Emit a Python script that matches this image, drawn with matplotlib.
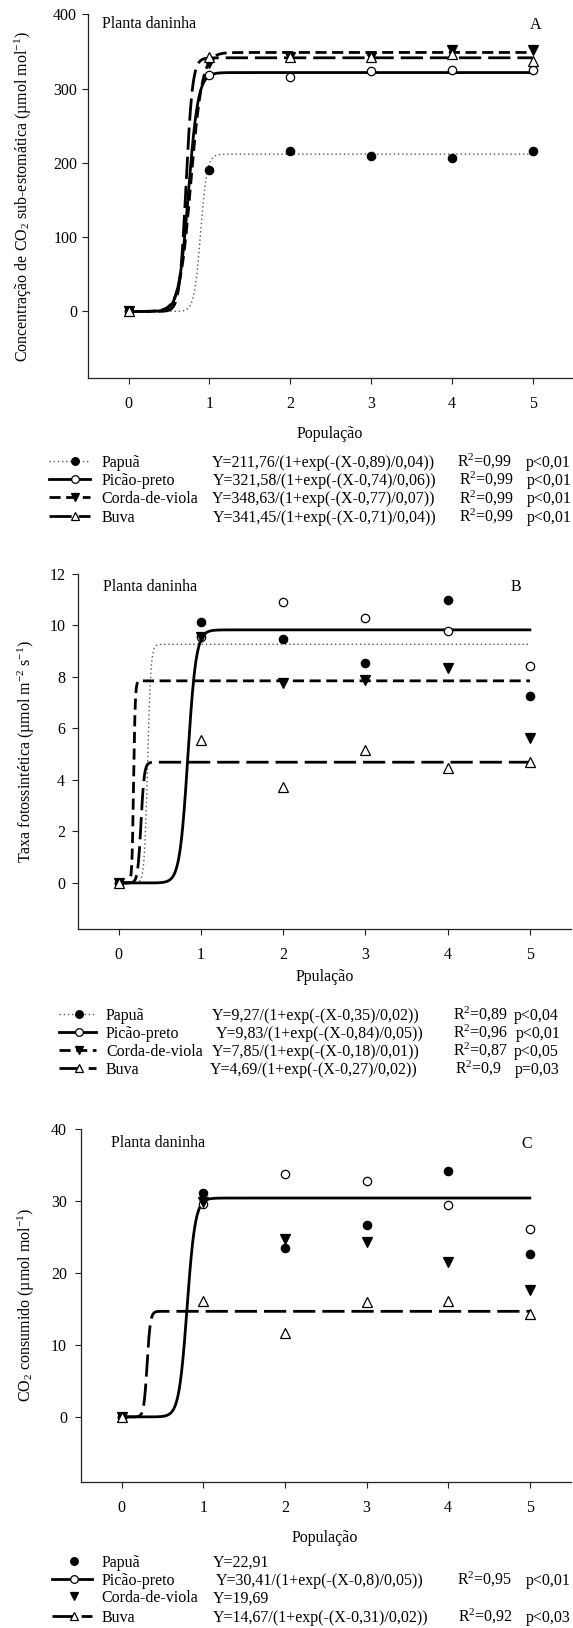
import numpy as np
import matplotlib
matplotlib.use('Agg')
import matplotlib.pyplot as plt
from matplotlib.lines import Line2D

plt.rcParams['font.family'] = ['Liberation Serif', 'DejaVu Serif']
plt.rcParams['mathtext.fontset'] = 'custom'
plt.rcParams['mathtext.rm'] = 'Liberation Serif'
plt.rcParams['mathtext.it'] = 'Liberation Serif:italic'
plt.rcParams['font.size'] = 11.5

W, H = 573, 1628

# ---- dados ----
populacao = [0, 1, 2, 3, 4, 5]
especies = ['Papuã', 'Picão-preto', 'Corda-de-viola', 'Buva']

# A - concentracao de CO2 sub-estomatica
ci_papua = [0, 191, 216, 209, 206.5, 216]
ci_picao = [0, 318, 315, 323, 325.5, 325.5]
ci_corda = [0, 334, 343, 343, 351.5, 352.5]
ci_buva = [0, 342, 343, 342, 346, 337]
ci_par = [(211.76, 0.89, 0.04), (321.58, 0.74, 0.06), (348.63, 0.77, 0.07), (341.45, 0.71, 0.04)]
ci_eq = ['Y=211,76/(1+exp(-(X-0,89)/0,04))', 'Y=321,58/(1+exp(-(X-0,74)/0,06))',
         'Y=348,63/(1+exp(-(X-0,77)/0,07))', 'Y=341,45/(1+exp(-(X-0,71)/0,04))']
ci_r2 = ['0,99', '0,99', '0,99', '0,99']
ci_p = ['p<0,01', 'p<0,01', 'p<0,01', 'p<0,01']

# B - taxa fotossintetica
a_papua = [0, 10.12, 9.49, 8.55, 11.0, 7.28]
a_picao = [0, 9.54, 10.9, 10.3, 9.78, 8.42]
a_corda = [0, 9.54, 7.75, 7.88, 8.33, 5.62]
a_buva = [0, 5.57, 3.73, 5.16, 4.48, 4.68]
a_par = [(9.27, 0.35, 0.02), (9.83, 0.84, 0.05), (7.85, 0.18, 0.01), (4.69, 0.27, 0.02)]
a_eq = ['Y=9,27/(1+exp(-(X-0,35)/0,02))', 'Y=9,83/(1+exp(-(X-0,84)/0,05))',
        'Y=7,85/(1+exp(-(X-0,18)/0,01))', 'Y=4,69/(1+exp(-(X-0,27)/0,02))']
a_r2 = ['0,89', '0,96', '0,87', '0,9']
a_p = ['p<0,04', 'p<0,01', 'p<0,05', 'p=0,03']

# C - CO2 consumido
c_papua = [0, 31.05, 23.5, 26.6, 34.2, 22.7]
c_picao = [0, 29.6, 33.8, 32.8, 29.5, 26.1]
c_corda = [0, 29.8, 24.7, 24.3, 21.5, 17.6]
c_buva = [0, 16.1, 11.6, 16.0, 16.1, 14.3]
c_par = [None, (30.41, 0.8, 0.05), None, (14.67, 0.31, 0.02)]
c_eq = ['Y=22,91', 'Y=30,41/(1+exp(-(X-0,8)/0,05))', 'Y=19,69',
        'Y=14,67/(1+exp(-(X-0,31)/0,02))']
c_r2 = [None, '0,95', None, '0,92']
c_p = [None, 'p<0,01', None, 'p<0,03']

# ---- estilos ----
estilos = [
    dict(ls=(0, (1, 2)), lw=1.0, color='#555555', marker='o', mfc='black', ms=6),
    dict(ls='-', lw=2.0, color='black', marker='o', mfc='white', ms=6),
    dict(ls=(0, (4, 2)), lw=2.0, color='black', marker='v', mfc='black', ms=6.5),
    dict(ls=(0, (8, 2.5)), lw=2.0, color='black', marker='^', mfc='white', ms=6.5),
]


def fx(px):
    return px / W


def fy(py):
    return 1 - py / H


def logistica(x, a, x0, b):
    return a / (1 + np.exp(-(x - x0) / b))


fig = plt.figure(figsize=(W / 100, H / 100), dpi=100)

paineis = [
    dict(rect=(88.3, 14.3, 573, 378.3), series=[ci_papua, ci_picao, ci_corda, ci_buva], par=ci_par,
         ylim=(-90, 400), yticks=[0, 100, 200, 300, 400], ypad=4, letra='A',
         titulo=(101.7, 22.7), letra_pos=(535.5, 24),
         ylabel='Concentração de CO$_2$ sub-estomática (µmol mol$^{-1}$)', ylab_x=23.5,
         xlabel='População', xlab=(330, 433.3),
         leg_y=[461.7, 480, 498.3, 516.7], leg_h=(49, 90, 74.5), leg_n=101.7,
         leg_e=[212, 213, 212, 213], leg_r=[457, 458.7, 458.7, 458.7], leg_p=[526, 527, 527, 527],
         eq=ci_eq, r2=ci_r2, p=ci_p, leg_linha=[True, True, True, True]),
    dict(rect=(77.7, 574, 571, 929.3), series=[a_papua, a_picao, a_corda, a_buva], par=a_par,
         ylim=(-1.8, 12), yticks=[0, 2, 4, 6, 8, 10, 12], ypad=5, letra='B',
         titulo=(103.3, 585.7), letra_pos=(516.4, 585.7),
         ylabel='Taxa fotossintética (µmol m$^{-2}$ s$^{-1}$)', ylab_x=26.5,
         xlabel='Ppulação', xlab=(325, 976),
         leg_y=[1015, 1033, 1051, 1069], leg_h=(59, 96, 79), leg_n=106,
         leg_e=[212, 215.6, 212, 210], leg_r=[453, 453, 453, 455], leg_p=[513.5, 516, 513.5, 515],
         eq=a_eq, r2=a_r2, p=a_p, leg_linha=[True, True, True, True]),
    dict(rect=(81, 1129, 570.6, 1481.7), series=[c_papua, c_picao, c_corda, c_buva], par=c_par,
         ylim=(-9, 40), yticks=[0, 10, 20, 30, 40], ypad=6, letra='C',
         titulo=(111, 1142.3), letra_pos=(526.3, 1142.7),
         ylabel='CO$_2$ consumido (µmol mol$^{-1}$)', ylab_x=26,
         xlabel='População', xlab=(325, 1536.7),
         leg_y=[1561.7, 1580, 1597.3, 1616.7], leg_h=(52, 92, 74), leg_n=101.7,
         leg_e=[213, 215.6, 213, 213], leg_r=[457, 457, 457, 458], leg_p=[526, 526, 526, 526],
         eq=c_eq, r2=c_r2, p=c_p, leg_linha=[False, True, False, True]),
]

xs = np.linspace(0, 5, 800)

for pn in paineis:
    l, t, r, b = pn['rect']
    ax = fig.add_axes([fx(l), fy(b), (r - l) / W, (b - t) / H])
    for par, est in zip(pn['par'], estilos):
        if par is None:
            continue
        ax.plot(xs, logistica(xs, *par), ls=est['ls'], lw=est['lw'], color=est['color'], zorder=2)
    for serie, est in zip(pn['series'], estilos):
        ax.plot(populacao, serie, ls='none', marker=est['marker'], ms=est['ms'],
                mfc=est['mfc'], mec='black', mew=0.9, zorder=3, clip_on=False)
    ax.set_xlim(-0.5, 5.5)
    ax.set_ylim(*pn['ylim'])
    ax.set_xticks(populacao)
    ax.set_yticks(pn['yticks'])
    for s in ['top', 'right']:
        ax.spines[s].set_visible(False)
    for s in ['left', 'bottom']:
        ax.spines[s].set_linewidth(0.9)
        ax.spines[s].set_color('#222222')
    ax.tick_params(axis='both', direction='out', length=4, width=0.8, color='#222222', labelsize=11.5)
    ax.tick_params(axis='x', pad=9)
    ax.tick_params(axis='y', pad=pn['ypad'])

    # textos do painel
    fig.text(fx(pn['titulo'][0]), fy(pn['titulo'][1] + 5), 'Planta daninha', ha='left', va='baseline')
    fig.text(fx(pn['letra_pos'][0]), fy(pn['letra_pos'][1] + 5), pn['letra'], ha='center', va='baseline')
    fig.text(fx(pn['ylab_x']), fy((t + b) / 2), pn['ylabel'], rotation=90, ha='center', va='center')
    fig.text(fx(pn['xlab'][0]), fy(pn['xlab'][1] + 5), pn['xlabel'], ha='center', va='baseline')

    # legenda
    x0, x1, xm = pn['leg_h']
    for i, est in enumerate(estilos):
        y = pn['leg_y'][i]
        if pn['leg_linha'][i]:
            fig.add_artist(Line2D([fx(x0), fx(x1)], [fy(y - 1), fy(y - 1)], transform=fig.transFigure,
                                  ls=est['ls'], lw=est['lw'], color=est['color']))
        fig.add_artist(Line2D([fx(xm)], [fy(y - 1)], transform=fig.transFigure, ls='none',
                              marker=est['marker'], ms=est['ms'] - 0.5, mfc=est['mfc'], mec='black', mew=0.9))
        fig.text(fx(pn['leg_n']), fy(y + 5), especies[i], ha='left', va='baseline')
        fig.text(fx(pn['leg_e'][i]), fy(y + 5), pn['eq'][i], ha='left', va='baseline')
        if pn['r2'][i] is not None:
            fig.text(fx(pn['leg_r'][i]), fy(y + 5), 'R$^2$=' + pn['r2'][i], ha='left', va='baseline')
            fig.text(fx(pn['leg_p'][i]), fy(y + 5), pn['p'][i], ha='left', va='baseline')

fig.savefig('out.png', dpi=100)
